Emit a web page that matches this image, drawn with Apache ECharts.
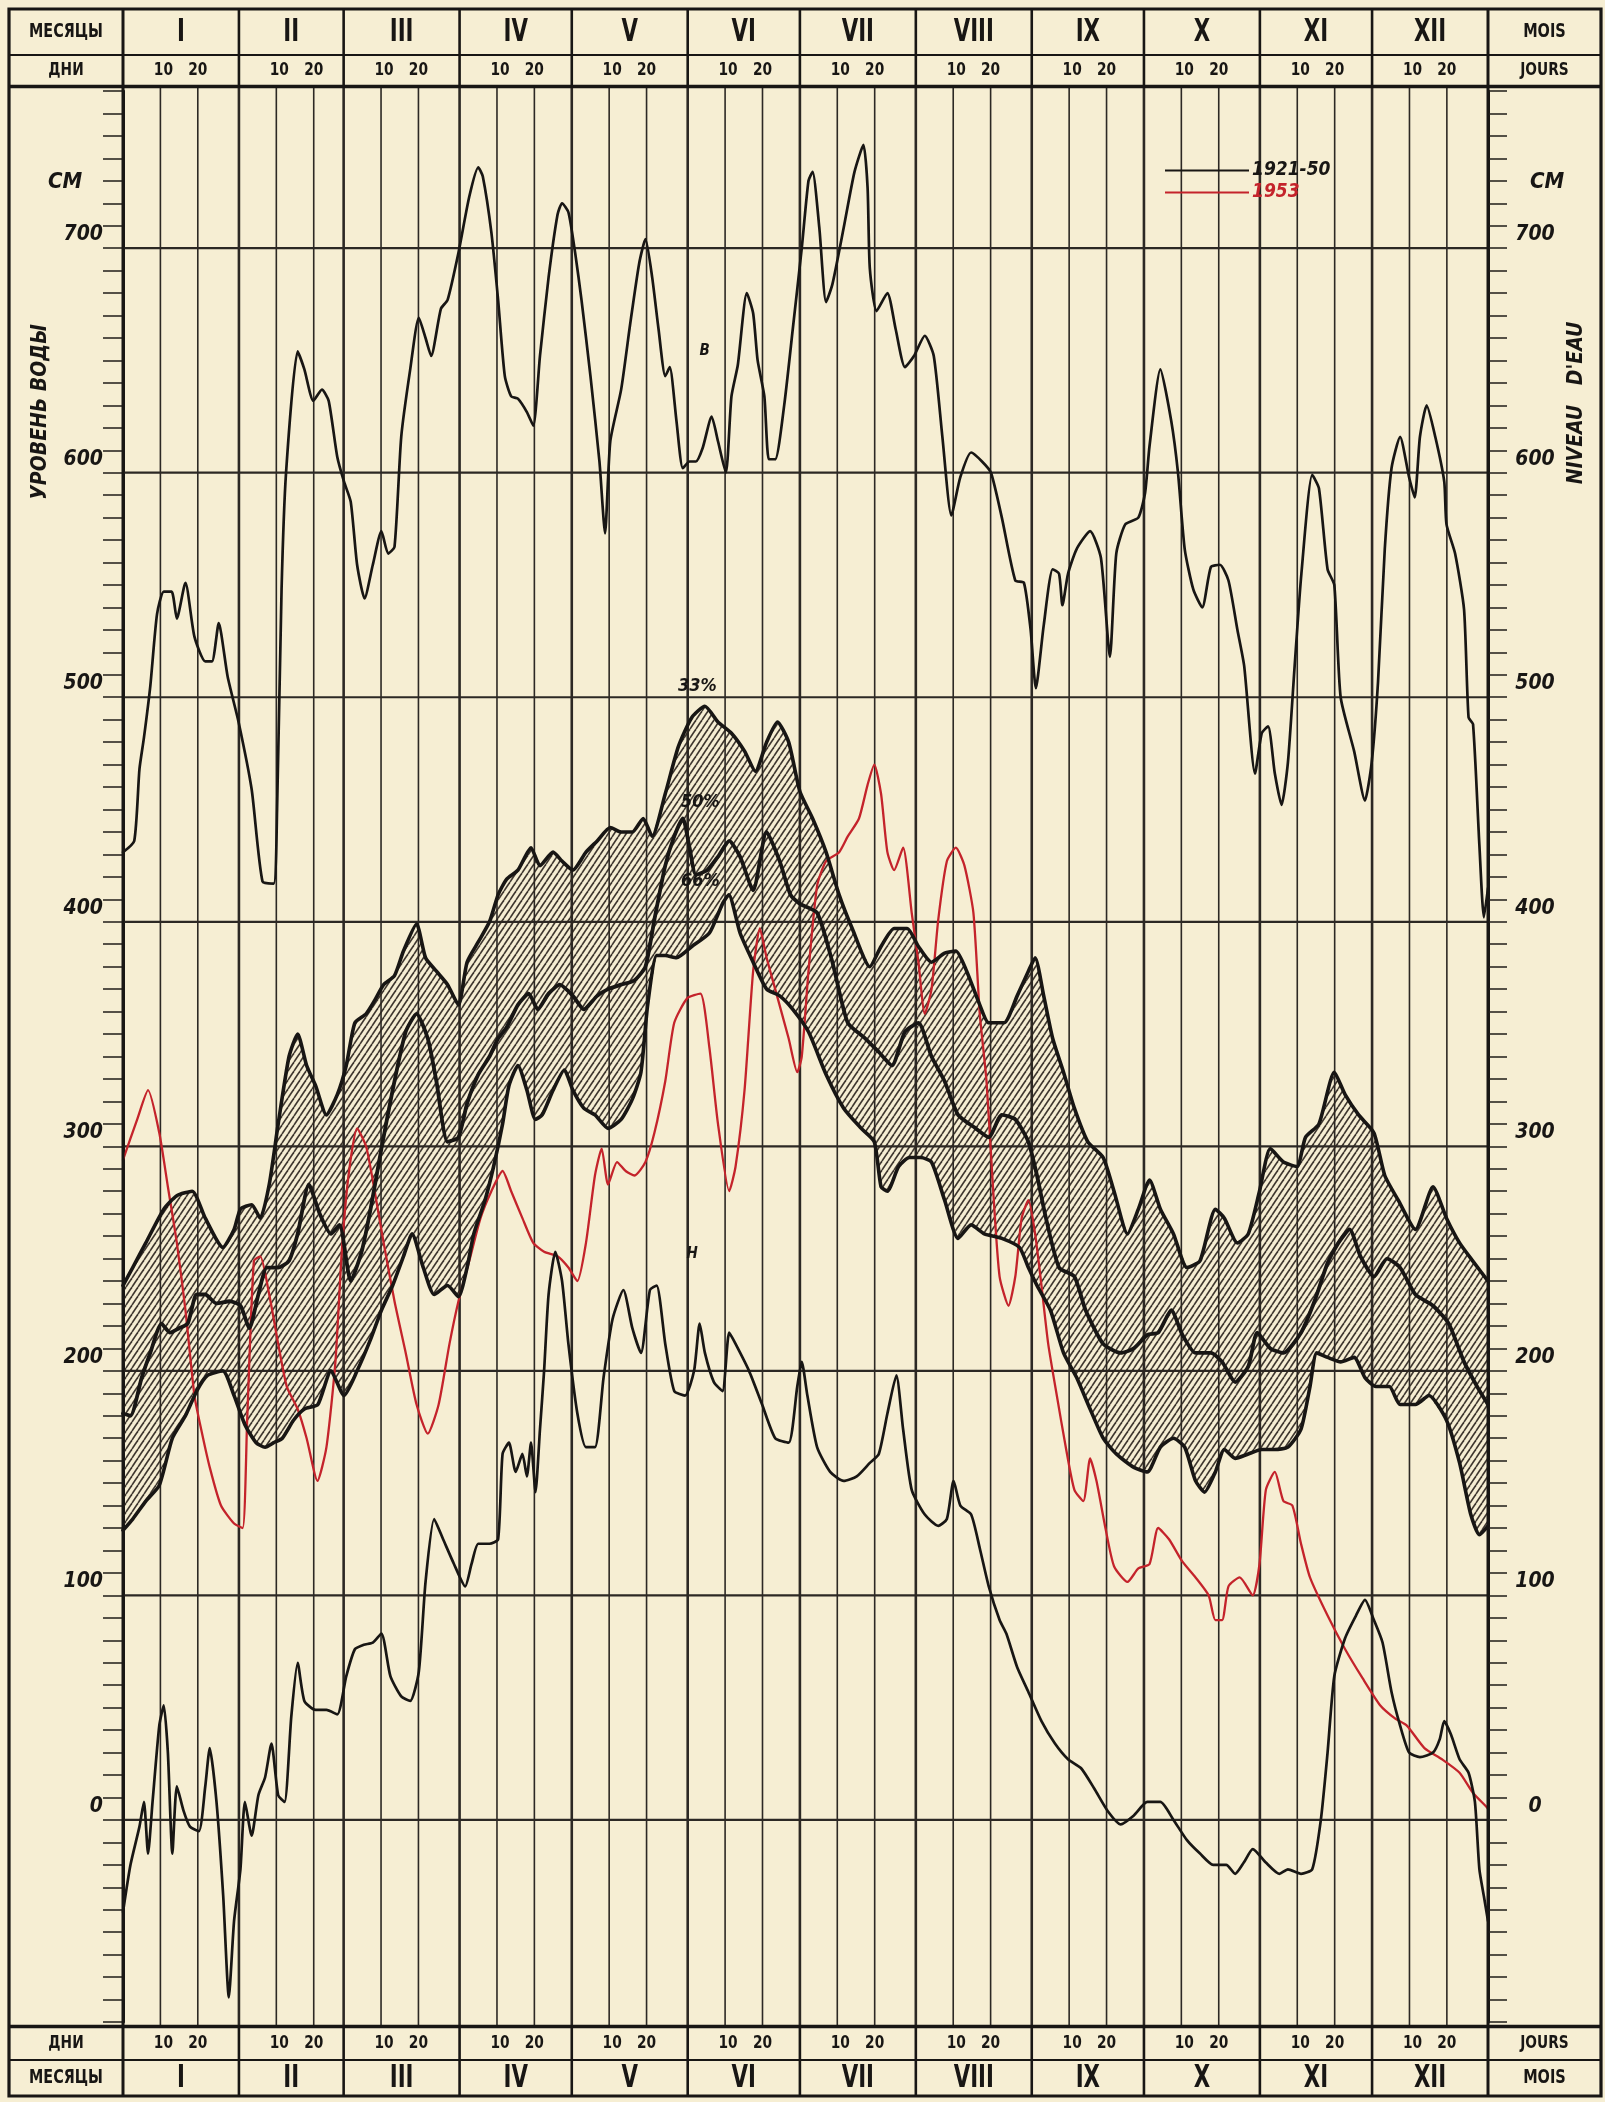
<!DOCTYPE html>
<html>
<head>
<meta charset="utf-8">
<script src="https://cdn.jsdelivr.net/npm/echarts@6/dist/echarts.min.js"></script>
<style>
html,body{margin:0;padding:0;background:#f5edd3;}
#chart{width:1605px;height:2102px;}
</style>
</head>
<body>
<div id="chart"></div>
<script>
// ---------- calendar / ticks ----------
const monthStarts = [0,31,59,90,120,151,181,212,243,273,304,334,365];
const monthNames = ['I','II','III','IV','V','VI','VII','VIII','IX','X','XI','XII'];
const dayMarks = [10,20];
const levelLines = [0,100,200,300,400,500,600,700];

// ---------- data: [day of year, level cm] ----------
const maxLevel = [[0,431],[3,436],[4.4,468],[5.6,482],[7.3,505],[9.1,537],[10.9,547],[13,547],[14.4,535],[16.7,551],[19.1,527],[22,516],[23.8,516],[25.6,533],[28,509],[30.9,489],[34.4,459],[37.3,418],[40.3,417],[41.2,450],[42.4,548],[43.6,600],[46.7,654],[48.5,646],[50.9,632],[53.2,637],[55,632],[57.3,607],[59.1,596],[60.9,587],[62.6,559],[64.6,544],[66.8,559],[69.1,574],[70.9,564],[72.6,567],[74.4,616],[76.8,646],[79.1,669],[80.9,660],[82.4,652],[85,673],[86.8,677],[89.7,698],[92.6,723],[95,736],[96.2,732],[98.5,707],[100.3,677],[102.1,643],[103.8,634],[105.6,633],[108,627],[109.7,621],[111.5,652],[113.8,687],[116.2,715],[117.4,720],[119.1,716],[120.9,698],[122.6,677],[125,643],[127.4,605],[128.9,573],[130.3,614],[133.2,637],[135.6,666],[138,693],[139.7,704],[141.5,687],[143.2,664],[145,643],[146.2,647],[148,623],[149.7,602],[151.5,605],[153.2,605],[155,611],[157.4,625],[159.1,614],[161.2,600],[162.7,634],[164.4,648],[166.8,680],[168.5,671],[169.7,650],[171.5,634],[172.7,606],[174.4,606],[176.8,630],[179.1,664],[181.5,700],[183.3,730],[184.4,734],[186.2,709],[188,676],[189.7,684],[192.7,709],[195.6,734],[198,746],[199.1,727],[199.7,691],[201.5,672],[204.4,680],[206.6,664],[209.1,647],[211.5,652],[214.4,661],[216.8,652],[219.1,616],[221.5,581],[223.9,598],[226.8,609],[229.7,605],[232.1,600],[235,580],[238.6,552],[240.9,551],[242.7,530],[244.1,504],[246.2,532],[248.6,557],[250.3,555],[251.2,541],[252.7,555],[255,566],[258.6,574],[261.5,562],[263.9,518],[265.6,564],[268,577],[271.5,580],[273.3,591],[274.5,612],[277.4,646],[280.3,623],[282.1,600],[283.9,566],[286.2,548],[288.6,540],[290.9,558],[293.3,559],[295.6,552],[298,530],[299.8,514],[302.7,466],[304.5,484],[306.2,487],[308,466],[309.8,452],[311.5,471],[313.3,514],[315.1,555],[318,599],[319.8,593],[322.1,557],[323.9,550],[325.6,500],[329.2,476],[332.1,454],[333.9,471],[335.6,507],[337.4,566],[339.2,602],[341.5,616],[343.9,598],[345.4,589],[346.8,616],[348.6,630],[350.9,616],[353.3,596],[353.9,577],[356.2,564],[358.6,539],[359.8,491],[361,488],[362.7,434],[363.9,402],[365,415]];

const minLevel = [[0,-41],[2,-20],[4.4,-3],[5.6,8],[6.7,-15],[7.9,8],[9.7,42],[10.9,51],[12,30],[13.2,-15],[14.4,15],[16.2,4],[17.9,-3],[20.3,-5],[22,15],[23.2,32],[25,8],[26.8,-34],[28.3,-79],[29.7,-45],[31.4,-22],[32.6,8],[34.4,-7],[36.2,11],[38,19],[39.7,34],[41.5,11],[43.2,8],[45,46],[46.7,70],[48.5,53],[51.5,49],[54.4,49],[57.3,47],[59.7,64],[62,76],[64.4,78],[66.8,79],[69.1,83],[71.5,64],[74.4,55],[76.8,53],[79.1,66],[80.9,106],[83.2,134],[85.6,125],[88.5,114],[91.5,104],[93.2,114],[95,123],[98,123],[100.3,125],[101.5,163],[103.2,168],[105,155],[106.8,163],[108,153],[109.1,168],[110.3,146],[111.5,174],[112.6,200],[113.8,234],[115.6,253],[117.4,240],[119.1,212],[121.5,181],[123.8,166],[126.2,166],[128.5,197],[130.9,223],[133.8,236],[136.2,219],[138.5,208],[140.9,236],[142.7,238],[145,212],[147.4,191],[150.3,189],[152.7,200],[154.2,221],[155.6,208],[158,195],[160.3,191],[162.1,217],[163.8,212],[167.4,200],[170.9,185],[174.4,170],[178,168],[180.3,193],[181.5,204],[183,189],[185.6,166],[189.1,155],[192.7,151],[196.2,153],[199.7,159],[202.1,163],[204.4,181],[206.8,198],[208.6,174],[210.9,147],[214.4,136],[218,131],[220.3,134],[222.1,151],[223.9,140],[226.8,136],[229.1,121],[231.5,104],[234.4,89],[236.2,83],[239.1,68],[242.1,57],[245.6,44],[249.2,34],[252.7,27],[256.2,23],[259.7,14],[263.3,4],[266.8,-2],[270.3,2],[273.9,8],[277.4,8],[280.9,0],[284.5,-9],[288,-15],[291.5,-20],[295,-20],[297.4,-24],[299.7,-19],[302.1,-13],[305.6,-19],[309.2,-24],[311.5,-22],[315,-24],[318,-22],[320.3,0],[322.1,30],[323.9,64],[326.8,81],[329.7,91],[332.1,98],[334.5,89],[336.8,79],[339.2,57],[341.5,42],[343.9,30],[346.8,28],[350.3,30],[352.1,36],[353.3,44],[355.1,38],[357.4,27],[359.8,21],[361.5,8],[362.7,-22],[363.9,-34],[365,-45]];

const p33 = [[0,238],[2.6,246],[6.1,257],[10.9,272],[14.4,278],[18.5,280],[22,268],[26.7,255],[29.7,263],[31.4,272],[34.4,274],[36.7,268],[39.1,283],[41.5,310],[44.4,340],[46.7,350],[49.1,336],[51.5,327],[54.4,314],[57.3,323],[59.7,336],[62,355],[65,359],[67.3,365],[69.7,372],[72.6,376],[75,387],[78.5,399],[80.9,384],[83.8,378],[86.8,372],[89.7,363],[92,382],[95,391],[98,400],[100.3,412],[102.6,419],[105.6,423],[109.1,433],[111.5,425],[115,431],[117.4,427],[120.3,423],[123.8,431],[126.8,436],[130.3,442],[133.2,440],[136.2,440],[139.1,446],[141.5,438],[145,457],[148.5,478],[152.1,491],[155.6,496],[159.1,489],[162.7,484],[166.2,476],[169.1,467],[172.1,480],[175,489],[178,480],[181,458],[184.4,446],[188,431],[191.5,412],[195,397],[199.7,380],[202.7,389],[206.2,397],[209.7,397],[212.7,389],[216.2,382],[219.7,386],[222.7,387],[225.6,378],[229.1,363],[231.5,355],[235.6,355],[239.1,367],[242.1,378],[243.9,384],[246.2,367],[248.6,348],[251.5,333],[254.4,317],[258,302],[262.1,295],[265,280],[268.6,261],[271.5,272],[274.5,285],[277.4,272],[280.9,261],[284.5,246],[288,249],[292.1,272],[294.5,268],[298,257],[300.9,261],[303.9,280],[306.8,299],[310.3,293],[313.9,291],[316.2,304],[319.8,310],[323.9,333],[326.8,323],[330.4,314],[334.5,306],[337.4,287],[341,276],[345.6,263],[350.3,282],[353.9,268],[357.4,257],[360.9,249],[365,240]];

const p50 = [[0,181],[2,180],[5,197],[7.3,208],[10.3,221],[12.6,217],[15,219],[17.3,221],[19.7,234],[22,234],[25,230],[28.5,231],[31.4,229],[33.8,219],[36.2,234],[38.5,246],[41.5,246],[44.4,249],[46.7,261],[49.7,283],[52.6,270],[55.6,261],[57.9,265],[60.9,240],[63.8,253],[66.2,272],[69.1,299],[72.1,325],[75.6,351],[78.5,359],[81.5,348],[83.8,329],[86.8,302],[89.7,304],[92,319],[95,332],[98,340],[100.3,348],[102.6,353],[105.6,363],[108.5,368],[110.9,361],[113.8,368],[116.8,372],[120.3,367],[123.2,361],[126.8,367],[129.7,370],[133.2,372],[136.8,374],[139.7,380],[142.1,401],[145,425],[147.4,438],[149.7,446],[151.5,433],[153.2,421],[156.2,423],[159.1,429],[162.1,436],[165,429],[168.5,414],[172.1,440],[175.6,427],[178.5,412],[181,408],[185.6,404],[189.7,382],[193.8,355],[198.5,348],[202.1,342],[205.6,336],[209.1,351],[212.7,355],[216.2,340],[219.7,329],[223.3,314],[228,308],[231.5,304],[235,314],[238.6,312],[242.1,302],[244.4,287],[246.8,268],[250.3,246],[254.4,242],[257.4,227],[262.1,212],[266.8,208],[270.3,210],[273.9,216],[276.8,217],[280.3,227],[283.3,216],[286.8,208],[290.9,208],[293.9,204],[297.4,195],[300.9,202],[303.3,217],[306.8,210],[310.3,208],[315,217],[318.6,231],[322.1,248],[325,257],[328,263],[330.9,251],[334.5,242],[338,250],[341.5,246],[345.6,234],[350.3,229],[354.5,221],[358.6,204],[362.1,193],[365,185]];

const p66 = [[0,129],[2.6,134],[6.1,142],[9.7,149],[13.2,170],[16.7,180],[19.7,191],[22.6,198],[26.7,200],[29.7,189],[32.6,176],[35.6,168],[38,166],[40.3,168],[42.6,170],[45.6,178],[48.5,183],[52.1,185],[55.6,200],[59.1,189],[62.6,200],[66.2,214],[69.1,227],[72.1,238],[75,251],[77.3,261],[80.3,246],[83.2,234],[86.8,238],[89.7,233],[92,246],[93.8,261],[96.8,276],[99.1,291],[101.5,310],[103.2,327],[105.6,336],[108,325],[110.3,312],[112.1,314],[115,325],[118,334],[120.3,325],[123.2,317],[126.2,314],[129.7,308],[133.2,312],[136.2,321],[138.5,333],[140.3,363],[142.7,385],[145,385],[148,384],[152.1,389],[156.8,395],[160.3,408],[162,412],[165,395],[168.5,382],[172.1,370],[175.6,367],[179.1,361],[183.3,351],[188,332],[192.7,317],[197.4,308],[200.9,302],[202.7,282],[204.4,280],[207.4,291],[210.3,295],[213.3,295],[216.2,293],[219.7,276],[223.3,259],[226.8,265],[230.3,261],[235,259],[239.7,255],[242.1,246],[244.4,238],[248,227],[251.5,208],[255,197],[258.6,183],[262.1,170],[265.6,163],[270.3,157],[273.9,155],[277.4,166],[280.9,170],[283.9,166],[286.8,151],[289.2,146],[292.1,155],[294.5,165],[297.4,161],[300.9,163],[304.5,165],[308,165],[311.5,166],[315,174],[317.4,193],[319.2,208],[322.1,206],[325.6,204],[329.2,206],[332.1,197],[335,193],[338.6,193],[341.5,185],[345.6,185],[349.2,189],[353.9,178],[357.4,159],[360.4,136],[362.7,127],[365,131]];

const level1953 = [[0,294],[3.8,312],[6.7,325],[9.7,306],[12,282],[14.4,257],[16.7,227],[19.1,189],[20.9,174],[23.2,157],[26.2,140],[29.7,132],[32,130],[33.2,178],[35,249],[36.7,251],[39.1,234],[41.5,212],[43.8,193],[46.7,183],[49.1,170],[52,151],[54.4,166],[56.8,204],[58.5,253],[60.3,287],[62.6,308],[65,300],[67.3,280],[69.7,257],[72.6,231],[75.6,208],[78.5,185],[81.5,172],[84.4,185],[87.3,212],[89.7,231],[92.6,249],[95.6,268],[98.5,280],[101.5,289],[103.8,280],[106.8,268],[109.7,257],[112.6,253],[116.2,251],[119.1,246],[121.5,240],[123.8,257],[126.2,287],[128,299],[129.7,283],[132.1,293],[134.4,289],[136.8,287],[139.7,293],[142.1,306],[145,329],[147.4,355],[150.9,366],[154.4,368],[156.8,344],[159.1,310],[162.1,280],[163.8,291],[166.2,325],[168.5,378],[170.3,397],[172.1,384],[174.4,370],[178,348],[180.3,333],[181.5,340],[183.3,378],[185.6,416],[188,427],[191.5,431],[193.8,438],[196.8,446],[199.1,461],[200.9,470],[202.7,457],[204.4,431],[206.2,423],[208.6,433],[210.9,404],[212.7,382],[214.4,359],[216.2,370],[218,401],[220.3,427],[222.7,433],[225,425],[227.4,404],[229.1,359],[230.9,329],[232.7,280],[234.4,242],[236.8,229],[238.6,242],[240.3,268],[242.1,276],[243.9,261],[245.6,238],[247.4,212],[249.7,189],[252.1,166],[254.4,147],[256.8,142],[258.6,161],[260.3,151],[262.7,130],[265,113],[268.6,106],[271.5,112],[274.5,114],[276.8,130],[279.7,125],[283.3,115],[286.8,108],[290.3,100],[292.1,89],[293.9,89],[295.6,104],[298.6,108],[302.1,100],[303.9,114],[305.6,147],[308,155],[310.3,142],[312.7,140],[315,123],[317.4,108],[322.1,91],[326.8,76],[331.5,63],[336.2,51],[340.3,45],[343.3,42],[348,32],[352.7,27],[357.4,21],[361,12],[364.5,6],[365,5]];

// annotation texts placed at [day, level]
const curveNotes = [
  {text:'33%', at:[153.6,505]},
  {text:'50%', at:[154.4,453]},
  {text:'66%', at:[154.4,418]},
  {text:'В', at:[155.5,654]},
  {text:'Н', at:[152.2,252]}
];

// ---------- styling ----------
const FONT = "'Liberation Sans Narrow','DejaVu Sans Condensed','Arial Narrow','DejaVu Sans','Liberation Sans',sans-serif";
const INK = '#181614';
const GRIDC = '#2c2824';
const RED = '#c4232b';
const PAPER = '#f6eed3';

function makeHatch() {
  const w = 6, h = 9;
  const c = document.createElement('canvas');
  c.width = w; c.height = h;
  const g = c.getContext('2d');
  g.strokeStyle = 'rgba(46,38,31,0.92)';
  g.lineWidth = 1.6;
  for (const off of [-w, 0, w]) {
    g.beginPath(); g.moveTo(off, h); g.lineTo(off + w, 0); g.stroke();
  }
  return c;
}
const hatch = makeHatch();

const tenDayLines = [];
for (let i = 0; i < 12; i++) for (const d of dayMarks) tenDayLines.push(monthStarts[i] + d);

const Y_MIN = -90, Y_MAX = 770, Y_TOP_EXT = 772, Y_BOT_EXT = -92;

const chart = echarts.init(document.getElementById('chart'), null, {renderer: 'canvas'});

const yAxisBase = {
  type: 'value', min: Y_MIN, max: Y_MAX, interval: 10,
  axisLine: {show: true, lineStyle: {color: INK, width: 3}},
  axisTick: {show: true, inside: false, lineStyle: {color: GRIDC, width: 1.6}},
  splitLine: {show: false},
  minorTick: {show: false}
};

function lineSeries(name, data, color, width, z) {
  return {
    name: name, type: 'line', data: data, color: color,
    showSymbol: false, symbol: 'none', smooth: 0.2, z: z,
    lineStyle: {color: color, width: width, join: 'round', cap: 'round'},
    emphasis: {disabled: true}, animation: false
  };
}

const option = {
  animation: false,
  backgroundColor: PAPER,
  grid: {left: 123, right: 117, top: 91, bottom: 80, containLabel: false, outerBoundsMode: 'none'},
  xAxis: {type: 'value', min: 0, max: 365, show: false},
  yAxis: [
    Object.assign({}, yAxisBase, {
      position: 'left',
      axisTick: Object.assign({}, yAxisBase.axisTick, {length: 20}),
      axisLabel: {
        formatter: v => (v % 100 === 0 ? String(v) : ''),
        margin: 20, align: 'right', verticalAlign: 'bottom', padding: [0, 0, 3, 0],
        fontFamily: FONT, fontSize: 21, fontStyle: 'italic', fontWeight: 'bold', color: INK
      }
    }),
    Object.assign({}, yAxisBase, {
      position: 'right',
      axisTick: Object.assign({}, yAxisBase.axisTick, {length: 19}),
      axisLabel: {
        formatter: v => (v % 100 === 0 ? String(v) : ''),
        margin: 47, align: 'center', verticalAlign: 'bottom', padding: [0, 0, 3, 0],
        fontFamily: FONT, fontSize: 21, fontStyle: 'italic', fontWeight: 'bold', color: INK
      }
    })
  ],
  legend: {
    show: true, orient: 'vertical', left: 1160, top: 156,
    icon: 'rect', itemWidth: 84, itemHeight: 2, itemGap: 3,
    selectedMode: false,
    textStyle: {fontFamily: FONT, fontSize: 19, fontStyle: 'italic', fontWeight: 'bold', color: INK, padding: [0, 0, 0, -2]},
    data: [
      {name: '1921-50', textStyle: {color: INK}},
      {name: '1953', textStyle: {color: RED}}
    ]
  },
  series: [
    {
      name: 'vgrid', type: 'custom', z: 1, clip: false, silent: true,
      data: tenDayLines.map(d => [d, 0, 1]).concat(monthStarts.slice(1, 12).map(d => [d, 0, 2])),
      encode: {x: 0, y: 1},
      renderItem: function (params, api) {
        const d = api.value(0), kind = api.value(2);
        const a = api.coord([d, Y_TOP_EXT]), b = api.coord([d, Y_BOT_EXT]);
        return {type: 'line', shape: {x1: a[0], y1: a[1], x2: b[0], y2: b[1]},
          style: {stroke: GRIDC, lineWidth: kind === 2 ? 2.6 : 1.6}};
      }
    },
    {
      name: 'hgrid', type: 'custom', z: 1, clip: false, silent: true,
      data: levelLines.map(v => [0, v]),
      encode: {x: 0, y: 1},
      renderItem: function (params, api) {
        const v = api.value(1);
        const a = api.coord([0, v]), b = api.coord([365, v]);
        return {type: 'line', shape: {x1: a[0], y1: a[1], x2: b[0], y2: b[1]},
          style: {stroke: GRIDC, lineWidth: 2.2}};
      }
    },
    {
      name: 'band', type: 'custom', z: 2, silent: true,
      data: [[0, 0]],
      encode: {x: 0, y: 1},
      renderItem: function (params, api) {
        const pts = p33.map(p => api.coord(p)).concat(p66.slice().reverse().map(p => api.coord(p)));
        return {type: 'polygon', shape: {points: pts}, style: {fill: {image: hatch, repeat: 'repeat'}, stroke: null}};
      }
    },
    lineSeries('1953', level1953, RED, 2.3, 3),
    lineSeries('1921-50', maxLevel, INK, 2.7, 4),
    lineSeries('min', minLevel, INK, 2.7, 4),
    lineSeries('33%', p33, INK, 3.6, 5),
    lineSeries('50%', p50, INK, 3.8, 5),
    lineSeries('66%', p66, INK, 3.6, 5)
  ]
};

chart.setOption(option);

// ---------- header / frame graphics positioned from the scales ----------
function buildGraphics() {
  const px = d => chart.convertToPixel({xAxisIndex: 0}, d);
  const py = v => chart.convertToPixel({yAxisIndex: 0}, v);
  const L = 9, R = 1601, T = 9, B = 2096;
  const colL = px(0), colR = px(365);
  const plotTop = py(Y_TOP_EXT), plotBot = py(Y_BOT_EXT);
  const row1 = 55, row2b = 2060;
  const g = [];
  const line = (x1, y1, x2, y2, w) => g.push({type: 'line', z: 50, silent: true,
    shape: {x1: x1, y1: y1, x2: x2, y2: y2}, style: {stroke: INK, lineWidth: w}});
  const text = (t, x, y, size, opts) => {
    opts = opts || {};
    g.push({type: 'text', z: 60, silent: true, x: x, y: y, rotation: opts.rot || 0,
      scaleX: opts.sx || 1, scaleY: 1,
      style: {text: t, fill: opts.color || INK,
        font: (opts.italic ? 'italic ' : '') + 'bold ' + size + 'px ' + FONT,
        align: 'center', verticalAlign: 'middle', textAlign: 'center', textVerticalAlign: 'middle'}});
  };
  // outer frame
  g.push({type: 'rect', z: 50, silent: true, shape: {x: L, y: T, width: R - L, height: B - T},
    style: {fill: null, stroke: INK, lineWidth: 3.2}});
  line(L, row1, R, row1, 2.2);
  line(L, plotTop, R, plotTop, 3.6);
  line(L, plotBot, R, plotBot, 3.6);
  line(L, row2b, R, row2b, 2.2);
  line(colL, T, colL, B, 3);
  line(colR, T, colR, B, 3);
  for (let i = 1; i < 12; i++) {
    const x = px(monthStarts[i]);
    line(x, T, x, plotTop, 2.6);
    line(x, plotBot, x, B, 2.6);
  }
  const topMonY = (T + row1) / 2, topDayY = (row1 + plotTop) / 2;
  const botDayY = (plotBot + row2b) / 2, botMonY = (row2b + B) / 2;
  for (let i = 0; i < 12; i++) {
    const cx = (px(monthStarts[i]) + px(monthStarts[i + 1])) / 2;
    text(monthNames[i], cx, topMonY + 1, 32, {sx: 0.74});
    text(monthNames[i], cx, botMonY + 1, 32, {sx: 0.74});
    const x10 = px(monthStarts[i] + dayMarks[0]) + 3, x20 = px(monthStarts[i] + dayMarks[1]);
    text(String(dayMarks[0]), x10, topDayY, 18, {sx: 0.85});
    text(String(dayMarks[1]), x20, topDayY, 18, {sx: 0.85});
    text(String(dayMarks[0]), x10, botDayY, 18, {sx: 0.85});
    text(String(dayMarks[1]), x20, botDayY, 18, {sx: 0.85});
  }
  const lc = (L + colL) / 2, rc = (colR + R) / 2;
  text('МЕСЯЦЫ', lc, topMonY, 19, {sx: 0.84});
  text('ДНИ', lc, topDayY, 18, {sx: 0.85});
  text('ДНИ', lc, botDayY, 18, {sx: 0.85});
  text('МЕСЯЦЫ', lc, botMonY, 19, {sx: 0.84});
  text('MOIS', rc, topMonY, 19, {sx: 0.85});
  text('JOURS', rc, topDayY, 18, {sx: 0.85});
  text('JOURS', rc, botDayY, 18, {sx: 0.85});
  text('MOIS', rc, botMonY, 19, {sx: 0.85});
  // unit and axis titles
  text('СМ', 65, 182, 22, {italic: true});
  text('СМ', 1547, 182, 22, {italic: true});
  text('УРОВЕНЬ ВОДЫ', 41, 412, 21, {italic: true, rot: Math.PI / 2});
  text('NIVEAU   D\'EAU', 1577, 403, 21, {italic: true, rot: Math.PI / 2});
  // curve annotations
  curveNotes.forEach(n => {
    const p = chart.convertToPixel({xAxisIndex: 0, yAxisIndex: 0}, n.at);
    text(n.text, p[0], p[1], n.text.length > 1 ? 18 : 15, {italic: true});
  });
  return g;
}

chart.setOption({graphic: buildGraphics()});
</script>
</body>
</html>
